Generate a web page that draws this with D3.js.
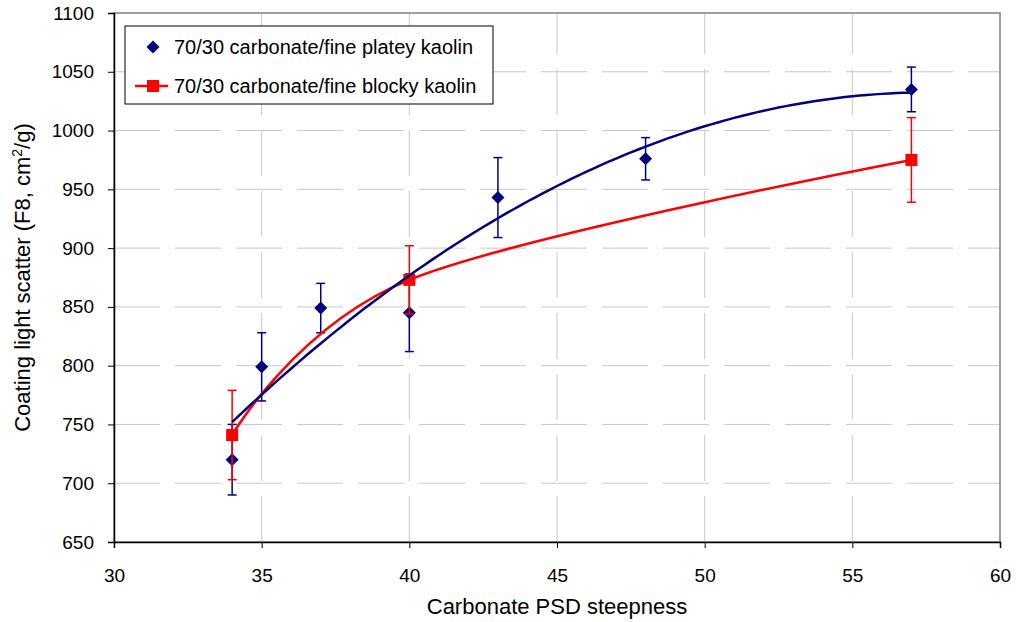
<!DOCTYPE html>
<html>
<head>
<meta charset="utf-8">
<script src="https://cdn.jsdelivr.net/npm/d3@7"></script>
<style>
  body { margin: 0; background: #fff; }
  svg { display: block; font-family: "Liberation Sans", Arial, sans-serif; }
</style>
</head>
<body>
<svg id="chart" width="1018" height="622"></svg>
<script>
// platey kaolin: steepness, light scatter, error (+/-)
var plateyX = [34, 35, 37, 40, 43, 48, 57];
var plateyY = [720, 799, 849, 845, 943, 976, 1035];
var plateyErr = [30, 29, 21, 33, 34, 18, 19];

// blocky kaolin
var blockyX = [34, 40, 57];
var blockyY = [741, 873, 975];
var blockyErr = [38, 29, 36];

var xTicks = [30, 35, 40, 45, 50, 55, 60];
var yTicks = [650, 700, 750, 800, 850, 900, 950, 1000, 1050, 1100];

var seriesNames = ["70/30 carbonate/fine platey kaolin", "70/30 carbonate/fine blocky kaolin"];

var svg = d3.select("#chart"),
    margin = {top: 13, right: 18, bottom: 80, left: 114},
    width = +svg.attr("width") - margin.left - margin.right,
    height = +svg.attr("height") - margin.top - margin.bottom,
    g = svg.append("g").attr("transform", "translate(" + margin.left + "," + margin.top + ")");

var x = d3.scaleLinear().domain([30, 60]).range([0, width]);
var y = d3.scaleLinear().domain([650, 1100]).range([height, 0]);

var navy = "#000080", red = "#ff0000";

// grid
g.append("g").selectAll("line").data(yTicks.slice(1, -1)).enter().append("line")
    .attr("x1", 0).attr("x2", width)
    .attr("y1", function(d) { return y(d); }).attr("y2", function(d) { return y(d); })
    .attr("stroke", "#c8c8c8").attr("stroke-width", 1).attr("stroke-dasharray", "46,15");
g.append("g").selectAll("line").data(xTicks.slice(1, -1)).enter().append("line")
    .attr("x1", function(d) { return x(d); }).attr("x2", function(d) { return x(d); })
    .attr("y1", height).attr("y2", 0)
    .attr("stroke", "#c8c8c8").attr("stroke-width", 1).attr("stroke-dasharray", "46,15");

// plot border
g.append("rect").attr("x", 0).attr("y", 0).attr("width", width).attr("height", height)
    .attr("fill", "none").attr("stroke", "#808080").attr("stroke-width", 1.5);

// axes
var xAxis = g.append("g").attr("transform", "translate(0," + height + ")")
    .call(d3.axisBottom(x).tickValues(xTicks).tickSize(6).tickPadding(21).tickFormat(d3.format("d")));
var yAxis = g.append("g")
    .call(d3.axisLeft(y).tickValues(yTicks).tickSize(6).tickPadding(14).tickFormat(d3.format("d")));
[xAxis, yAxis].forEach(function(a) {
  a.select(".domain").attr("stroke", "#000").attr("stroke-width", 1.5);
  a.selectAll(".tick line").attr("stroke", "#000");
  a.selectAll(".tick text").attr("font-size", 19).attr("fill", "#000")
      .attr("font-family", "Liberation Sans, Arial, sans-serif");
});

// quadratic least-squares trendline for platey series
function quadFit(xs, ys) {
  var n = xs.length, s = [0, 0, 0, 0, 0], t = [0, 0, 0];
  for (var i = 0; i < n; i++) {
    var u = xs[i] - 40;
    for (var k = 0; k < 5; k++) s[k] += Math.pow(u, k);
    for (var k = 0; k < 3; k++) t[k] += ys[i] * Math.pow(u, k);
  }
  var M = [[s[0], s[1], s[2], t[0]], [s[1], s[2], s[3], t[1]], [s[2], s[3], s[4], t[2]]];
  for (var c = 0; c < 3; c++) {
    for (var r = c + 1; r < 3; r++) {
      var f = M[r][c] / M[c][c];
      for (var k = c; k < 4; k++) M[r][k] -= f * M[c][k];
    }
  }
  var coef = [0, 0, 0];
  for (var r = 2; r >= 0; r--) {
    var v = M[r][3];
    for (var k = r + 1; k < 3; k++) v -= M[r][k] * coef[k];
    coef[r] = v / M[r][r];
  }
  return function(xv) { var u = xv - 40; return coef[0] + coef[1] * u + coef[2] * u * u; };
}
var trend = quadFit(plateyX, plateyY);
var trendPts = d3.range(34, 57.001, 0.25).map(function(v) { return [v, trend(v)]; });

function errBars(xs, ys, es, color) {
  var eg = g.append("g").attr("stroke", color).attr("stroke-width", 1.5);
  xs.forEach(function(xv, i) {
    var cx = x(xv), top = y(ys[i] + es[i]), bot = y(ys[i] - es[i]);
    eg.append("line").attr("x1", cx).attr("x2", cx).attr("y1", top).attr("y2", bot);
    eg.append("line").attr("x1", cx - 4.5).attr("x2", cx + 4.5).attr("y1", top).attr("y2", top);
    eg.append("line").attr("x1", cx - 4.5).attr("x2", cx + 4.5).attr("y1", bot).attr("y2", bot);
  });
}

// platey series
errBars(plateyX, plateyY, plateyErr, navy);
var diamond = "M0,-6.5L6.5,0L0,6.5L-6.5,0Z";
g.append("g").selectAll("path").data(plateyX).enter().append("path")
    .attr("d", diamond)
    .attr("transform", function(d, i) { return "translate(" + x(d) + "," + y(plateyY[i]) + ")"; })
    .attr("fill", navy);

// blocky series, smoothed line
errBars(blockyX, blockyY, blockyErr, red);
var smooth = d3.line()
    .x(function(d, i) { return x(blockyX[i]); })
    .y(function(d, i) { return y(blockyY[i]); })
    .curve(d3.curveCardinal.tension(0));
g.append("path").datum(blockyX)
    .attr("fill", "none").attr("stroke", red).attr("stroke-width", 2.5)
    .attr("d", smooth);
g.append("g").selectAll("rect").data(blockyX).enter().append("rect")
    .attr("x", function(d) { return x(d) - 6; })
    .attr("y", function(d, i) { return y(blockyY[i]) - 6; })
    .attr("width", 12).attr("height", 12)
    .attr("fill", red);

// trendline
var tl = d3.line().x(function(d) { return x(d[0]); }).y(function(d) { return y(d[1]); });
g.append("path").datum(trendPts)
    .attr("fill", "none").attr("stroke", navy).attr("stroke-width", 2.5)
    .attr("d", tl);

// legend
var lg = svg.append("g").attr("transform", "translate(125,26)");
lg.append("rect").attr("width", 368).attr("height", 78)
    .attr("fill", "#fff").attr("stroke", "#000").attr("stroke-width", 1);
lg.append("path").attr("d", diamond).attr("transform", "translate(28,21)").attr("fill", navy);
lg.append("line").attr("x1", 10).attr("x2", 43).attr("y1", 60).attr("y2", 60)
    .attr("stroke", red).attr("stroke-width", 2.5);
lg.append("rect").attr("x", 22).attr("y", 54).attr("width", 12).attr("height", 12).attr("fill", red);
lg.selectAll("text.lbl").data(seriesNames).enter().append("text")
    .attr("class", "lbl")
    .attr("x", 49).attr("y", function(d, i) { return 21 + i * 39; })
    .attr("dy", "0.35em")
    .attr("font-size", 20).text(function(d) { return d; });

// axis titles
svg.append("text").attr("x", margin.left + width / 2).attr("y", 614)
    .attr("text-anchor", "middle").attr("font-size", 22)
    .text("Carbonate PSD steepness");

var yt = svg.append("text")
    .attr("transform", "translate(30," + (margin.top + height / 2) + ") rotate(-90)")
    .attr("text-anchor", "middle").attr("font-size", 22);
yt.append("tspan").text("Coating light scatter (F8, cm");
yt.append("tspan").attr("dy", -8).attr("font-size", 14).text("2");
yt.append("tspan").attr("dy", 8).text("/g)");
</script>
</body>
</html>
